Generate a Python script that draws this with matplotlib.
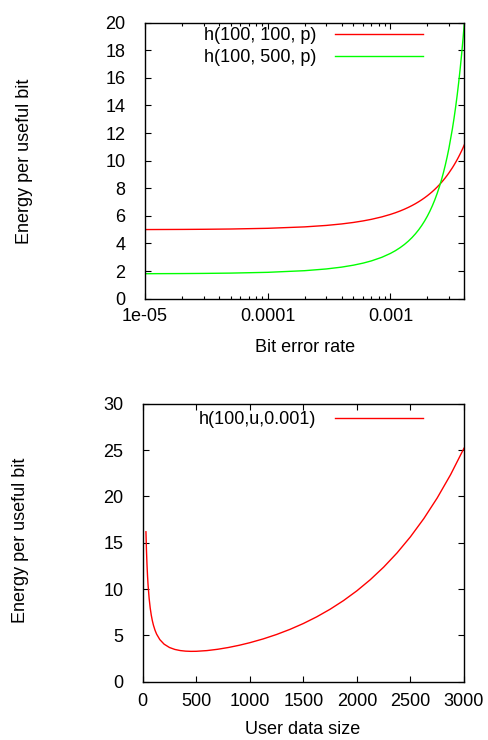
import matplotlib
matplotlib.use("Agg")
import matplotlib.pyplot as plt
from matplotlib.ticker import FixedLocator, FixedFormatter, LogLocator, NullFormatter

plt.rcParams['font.family'] = ['Liberation Sans', 'DejaVu Sans']

# ---- data ----
ber = [1e-5, 2e-5, 3e-5, 5e-5, 1e-4, 2e-4, 3e-4, 4e-4, 5e-4, 6e-4, 7e-4, 8.5e-4, 1e-3, 1.1e-3,
       1.2e-3, 1.3e-3, 1.4e-3, 1.5e-3, 1.6e-3, 1.7e-3, 1.8e-3, 1.9e-3, 2e-3, 2.1e-3, 2.2e-3,
       2.3e-3, 2.4e-3, 2.5e-3, 2.6e-3, 2.7e-3, 2.8e-3, 2.9e-3, 3e-3, 3.2e-3, 3.3e-3, 3.4e-3,
       3.5e-3, 3.6e-3, 3.7e-3, 3.8e-3, 3.9e-3, 4e-3]
h_100_100 = [5.010, 5.020, 5.030, 5.050, 5.101, 5.204, 5.309, 5.417, 5.526, 5.638, 5.752, 5.927,
             6.108, 6.231, 6.357, 6.486, 6.617, 6.751, 6.887, 7.027, 7.169, 7.314, 7.462, 7.613,
             7.767, 7.925, 8.085, 8.249, 8.416, 8.586, 8.760, 8.938, 9.119, 9.492, 9.685, 9.881,
             10.081, 10.286, 10.494, 10.707, 10.924, 11.146]
h_100_500 = [1.811, 1.822, 1.833, 1.855, 1.911, 2.030, 2.155, 2.288, 2.430, 2.580, 2.740, 2.998,
             3.281, 3.484, 3.700, 3.929, 4.172, 4.430, 4.705, 4.996, 5.306, 5.634, 5.983, 6.354,
             6.748, 7.164, 7.610, 8.082, 8.583, 9.116, 9.681, 10.281, 10.919, 12.316, 13.080,
             13.891, 14.753, 15.669, 16.642, 17.675, 18.772, 19.938]

user_size = [30.3, 35, 40, 45, 50, 60, 70, 80, 90, 100, 115, 130, 160, 200, 250, 300, 350, 400,
             450, 500, 600, 700, 800, 900, 1000, 1125, 1250, 1375, 1500, 1625, 1750, 1875, 2000,
             2125, 2250, 2375, 2500, 2625, 2750, 2875, 3000]
h_100_u = [16.179, 14.226, 12.654, 11.433, 10.457, 8.998, 7.959, 7.184, 6.584, 6.108, 5.553,
           5.132, 4.540, 4.050, 3.690, 3.482, 3.361, 3.298, 3.275, 3.281, 3.357, 3.499, 3.691,
           3.928, 4.208, 4.617, 5.095, 5.647, 6.279, 7.000, 7.821, 8.753, 9.810, 11.008, 12.364,
           13.900, 15.638, 17.605, 19.831, 22.348, 25.197]

top_xticks = [1e-5, 1e-4, 1e-3]
top_xticklabels = ['1e-05', '0.0001', '0.001']
top_yticks = [0, 2, 4, 6, 8, 10, 12, 14, 16, 18, 20]
bot_xticks = [0, 500, 1000, 1500, 2000, 2500, 3000]
bot_yticks = [0, 5, 10, 15, 20, 25, 30]

W, H = 488, 740
fig = plt.figure(figsize=(W / 100, H / 100), dpi=100)

def px_axes(l, t, r, b):
    return fig.add_axes([l / W, 1 - b / H, (r - l) / W, (b - t) / H])

FS = 13
RED = '#ff0000'
GREEN = '#00ff00'

def style(ax):
    for s in ax.spines.values():
        s.set_linewidth(1.0)
        s.set_color('black')
    ax.tick_params(which='both', direction='in', top=True, right=True, labelsize=FS,
                   width=0.8, color='black')
    ax.tick_params(which='major', length=4.5)
    ax.tick_params(which='minor', length=2.5)
    ax.tick_params(axis='y', pad=14)
    ax.tick_params(axis='x', pad=7)

leg_kw = dict(bbox_transform=fig.transFigure, frameon=False, markerfirst=False, fontsize=FS,
              handlelength=4.87, handletextpad=1.05, labelspacing=0.3, borderpad=0,
              borderaxespad=0, loc='upper right')

# ---- top chart ----
ax1 = px_axes(145, 22.7, 464.3, 298.7)
ax1.plot(ber, h_100_100, color=RED, lw=1.0, label='h(100, 100, p)')
ax1.plot(ber, h_100_500, color=GREEN, lw=1.0, label='h(100, 500, p)')
ax1.set_xscale('log')
ax1.set_xlim(1e-5, 4e-3)
ax1.set_ylim(0, 20)
ax1.xaxis.set_major_locator(FixedLocator(top_xticks))
ax1.xaxis.set_major_formatter(FixedFormatter(top_xticklabels))
ax1.xaxis.set_minor_locator(LogLocator(base=10, subs=range(2, 10)))
ax1.xaxis.set_minor_formatter(NullFormatter())
ax1.set_yticks(top_yticks)
style(ax1)
ax1.legend(bbox_to_anchor=(423 / W, 1 - 27 / H), **leg_kw)
fig.text(305 / W, 1 - 347 / H, 'Bit error rate', ha='center', va='center', fontsize=FS)
fig.text(25 / W, 1 - 161 / H, 'Energy per useful bit', ha='center', va='center',
         rotation=90, fontsize=FS)

# ---- bottom chart ----
ax2 = px_axes(142.7, 403.7, 464, 681.7)
ax2.plot(user_size, h_100_u, color=RED, lw=1.0, label='h(100,u,0.001)')
ax2.set_xlim(0, 3000)
ax2.set_ylim(0, 30)
ax2.set_xticks(bot_xticks)
ax2.set_yticks(bot_yticks)
style(ax2)
ax2.tick_params(axis='x', pad=8)
ax2.legend(bbox_to_anchor=(423 / W, 1 - 411 / H), **leg_kw)
fig.text(303 / W, 1 - 729 / H, 'User data size', ha='center', va='center', fontsize=FS)
fig.text(21 / W, 1 - 540 / H, 'Energy per useful bit', ha='center', va='center',
         rotation=90, fontsize=FS)

fig.savefig('out.png', dpi=100)
